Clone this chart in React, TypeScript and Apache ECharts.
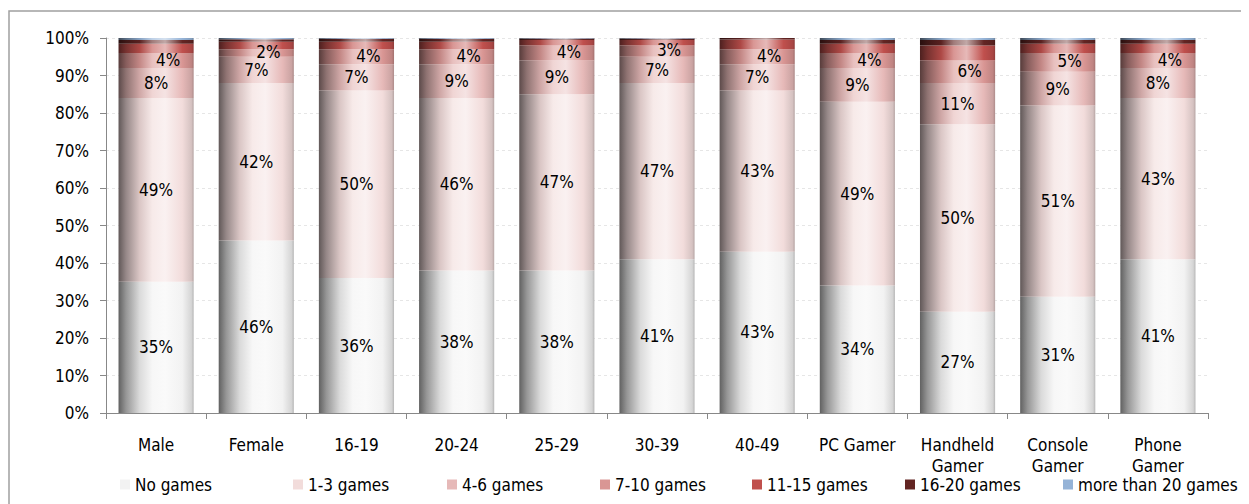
import React, { useEffect, useRef } from "react";
import * as echarts from "echarts";

const categories = [
  "Male", "Female", "16-19", "20-24", "25-29", "30-39", "40-49",
  "PC Gamer", "Handheld\nGamer", "Console\nGamer", "Phone\nGamer",
];
const seriesNames = [
  "No games", "1-3 games", "4-6 games", "7-10 games",
  "11-15 games", "16-20 games", "more than 20 games",
];
const noGames = [35, 46, 36, 38, 38, 41, 43, 34, 27, 31, 41];
const games1to3 = [49, 42, 50, 46, 47, 47, 43, 49, 50, 51, 43];
const games4to6 = [8, 7, 7, 9, 9, 7, 7, 9, 11, 9, 8];
const games7to10 = [4, 2, 4, 4, 4, 3, 4, 4, 6, 5, 4];
const games11to15 = [2.5, 2, 2, 2, 1.5, 1.5, 2.6, 2.5, 4, 2.5, 2.5];
const games16to20 = [1, 0.7, 0.8, 0.8, 0.4, 0.4, 0.4, 1, 1.5, 1, 1];
const gamesOver20 = [0.5, 0.3, 0.2, 0.2, 0.1, 0.1, 0, 0.5, 0.5, 0.5, 0.5];
const yTicks = [0, 10, 20, 30, 40, 50, 60, 70, 80, 90, 100];

const allSeries = [noGames, games1to3, games4to6, games7to10, games11to15, games16to20, gamesOver20];
const baseColors = ["#f2f2f2", "#f2dcdb", "#e6b9b8", "#d99694", "#c0504d", "#632523", "#95b3d7"];
const legendLefts = [112, 285, 439, 592, 744, 897, 1055];

const FONT = "'DejaVu Sans Condensed', 'DejaVu Sans', Tahoma, sans-serif";
const FS = 17;

function parse(hex: string) {
  const h = hex.replace("#", "");
  return [parseInt(h.slice(0, 2), 16), parseInt(h.slice(2, 4), 16), parseInt(h.slice(4, 6), 16)];
}
function mix(hex: string, target: number[], t: number) {
  const c = parse(hex);
  const r = c.map((v, i) => Math.round(v + (target[i] - v) * t));
  return `rgb(${r[0]},${r[1]},${r[2]})`;
}
const dark = (hex: string, t: number) => mix(hex, [0, 0, 0], t);
const light = (hex: string, t: number) => mix(hex, [255, 255, 255], t);

function cylinder(hex: string) {
  return {
    type: "linear", x: 0, y: 0, x2: 1, y2: 0,
    colorStops: [
      { offset: 0, color: dark(hex, 0.6) },
      { offset: 0.1, color: dark(hex, 0.38) },
      { offset: 0.28, color: dark(hex, 0.1) },
      { offset: 0.45, color: light(hex, 0.4) },
      { offset: 0.62, color: light(hex, 0.6) },
      { offset: 0.85, color: hex },
      { offset: 0.97, color: dark(hex, 0.12) },
      { offset: 1, color: dark(hex, 0.25) },
    ],
  };
}

export default function App() {
  const ref = useRef<HTMLDivElement>(null);
  useEffect(() => {
    if (!ref.current) return;
    const chart = echarts.init(ref.current, null, { renderer: "svg" });
    const series = allSeries.map((data, i) => ({
      name: seriesNames[i],
      type: "bar",
      stack: "total",
      barWidth: "75%",
      data,
      itemStyle: { color: cylinder(baseColors[i]) },
      label: {
        show: i < 4,
        position: "inside",
        offset: i === 3 ? [12, -1] : [0, 0],
        color: "#000",
        fontSize: FS,
        fontFamily: FONT,
        formatter: (p: any) => `${Math.round(p.value)}%`,
      },
      emphasis: { disabled: true },
    }));
    const legends = seriesNames.map((n, i) => ({
      bottom: 11,
      left: legendLefts[i],
      padding: 0,
      icon: "rect",
      itemWidth: 10,
      itemHeight: 10,
      selectedMode: false,
      textStyle: { fontSize: FS, fontFamily: FONT, color: "#000" },
      data: [{ name: n, itemStyle: { color: baseColors[i] } }],
    }));
    chart.setOption({
      animation: false,
      textStyle: { fontFamily: FONT },
      grid: { left: 98, right: 41, top: 30, bottom: 91 },
      graphic: [
        {
          type: "rect",
          shape: { x: 1, y: 3, width: 1400, height: 700 },
          style: { fill: "none", stroke: "#a0a0a0", lineWidth: 1.5 },
          silent: true,
        },
      ],
      legend: legends,
      xAxis: {
        type: "category",
        data: categories,
        axisLine: { lineStyle: { color: "#888" } },
        axisTick: { show: true, length: 6, lineStyle: { color: "#888" } },
        axisLabel: { color: "#000", fontSize: FS, fontFamily: FONT, margin: 21, lineHeight: 21, interval: 0 },
      },
      yAxis: {
        type: "value",
        min: yTicks[0],
        max: yTicks[yTicks.length - 1],
        interval: yTicks[1] - yTicks[0],
        axisLine: { show: true, lineStyle: { color: "#888" } },
        axisTick: { show: true, length: 6, lineStyle: { color: "#888" } },
        axisLabel: { color: "#000", fontSize: FS, fontFamily: FONT, margin: 17, formatter: "{value}%" },
        splitLine: { show: true, lineStyle: { color: "#e6e6e6", type: [3, 3] } },
      },
      series,
    });
    return () => chart.dispose();
  }, []);
  return <div ref={ref} style={{ width: 1241, height: 496 }} />;
}
